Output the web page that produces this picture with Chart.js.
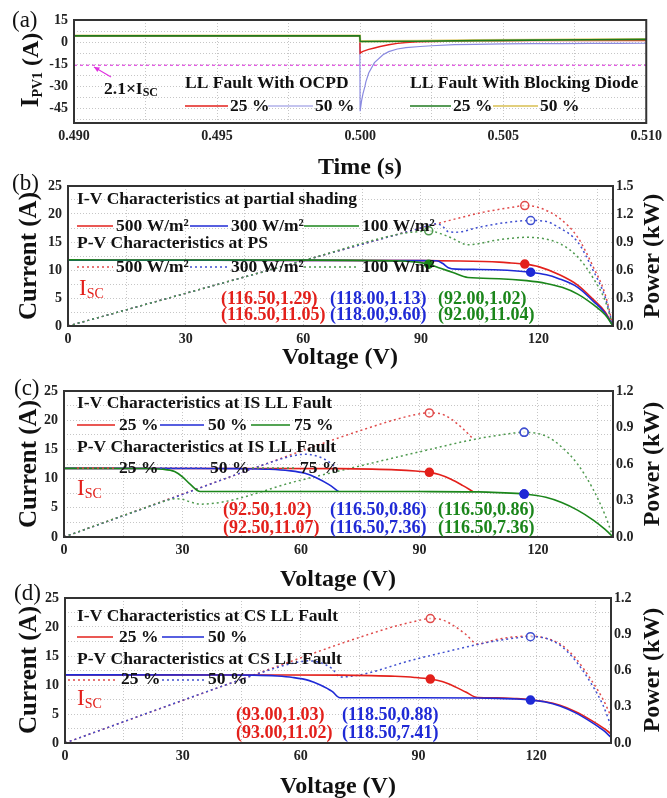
<!DOCTYPE html>
<html>
<head>
<meta charset="utf-8">
<script src="https://cdn.jsdelivr.net/npm/chart.js@4.4.1/dist/chart.umd.min.js"></script>
<style>
  body { margin: 0; background: #fff; }
  #wrap { position: relative; width: 667px; height: 798px; overflow: hidden; }
  canvas { position: absolute; left: 0; }
</style>
</head>
<body>
<div id="wrap">
  <canvas id="chartA" width="667" height="180" style="top:0px"></canvas>
  <canvas id="chartB" width="667" height="200" style="top:170px"></canvas>
  <canvas id="chartC" width="667" height="235" style="top:360px"></canvas>
  <canvas id="chartD" width="667" height="218" style="top:580px"></canvas>
</div>
<script>
// ---- (a) fault current vs time ----
const timeTickLabels = [0.490, 0.495, 0.500, 0.505, 0.510];
const ipvTickLabels = [-45, -30, -15, 0, 15];
const timeOC25 = [0.490, 0.49999, 0.5000, 0.50005, 0.5001, 0.5002, 0.5003, 0.5005, 0.5007, 0.5010, 0.5013, 0.5016, 0.5020, 0.5025, 0.5030, 0.5040, 0.5050, 0.5060, 0.5070, 0.5080, 0.5090, 0.5100];
const ipvOC25 = [4, 4, -7.5, -6.8, -6.3, -5.6, -5.0, -4.0, -3.0, -1.8, -0.9, -0.3, 0.1, 0.4, 0.6, 0.8, 0.9, 1.0, 1.0, 1.1, 1.1, 1.1];
const timeOC50 = [0.490, 0.49999, 0.5000, 0.50005, 0.5001, 0.50017, 0.5002, 0.5003, 0.5005, 0.5008, 0.5010, 0.5013, 0.5016, 0.5021, 0.5025, 0.5033, 0.5040, 0.5050, 0.5060, 0.5070, 0.5080, 0.5090, 0.5100];
const ipvOC50 = [4, 4, -47, -40, -35, -30, -27, -21, -14, -8.6, -6.5, -4.7, -3.8, -3.0, -2.5, -1.8, -1.5, -1.2, -1.1, -1.0, -0.9, -0.9, -0.8];
const timeBD = [0.490, 0.49999, 0.5000, 0.5020, 0.5040, 0.5060, 0.5080, 0.5100];
const ipvBD25 = [4.2, 4.2, 0.4, 0.6, 1.0, 1.3, 1.6, 1.8];
const ipvBD50 = [4.4, 4.4, 0.6, 0.8, 1.2, 1.5, 1.8, 2.0];
const timeLimit = [0.490, 0.510];
const ipvLimit = [-15.8, -15.8];

// ---- shared tick labels for the I-V / P-V panels ----
const voltTickLabels = [0, 30, 60, 90, 120];
const currTickLabels = [0, 5, 10, 15, 20, 25];
const powTickLabelsB = [0.0, 0.3, 0.6, 0.9, 1.2, 1.5];
const powTickLabelsCD = [0.0, 0.3, 0.6, 0.9, 1.2];

// ---- (b) partial shading ----
const voltB500 = [0, 30, 60, 90, 100, 106, 110, 113, 116.5, 120, 125.5, 130, 134, 137, 139];
const currB500 = [11.75, 11.74, 11.72, 11.68, 11.62, 11.52, 11.4, 11.25, 11.05, 10.6, 9.1, 7.3, 4.7, 2.5, 0];
const powB500 = [0, 0.35, 0.70, 1.05, 1.16, 1.22, 1.25, 1.27, 1.29, 1.27, 1.15, 0.95, 0.63, 0.34, 0];
const voltB300 = [0, 30, 60, 90, 94, 95.5, 97, 99, 105, 112, 118, 122, 125, 130, 134, 137, 139];
const currB300 = [11.75, 11.74, 11.72, 11.68, 11.65, 11.2, 10.4, 10.15, 10.1, 9.95, 9.6, 9.15, 8.5, 6.9, 4.4, 2.3, 0];
const powB300 = [0, 0.35, 0.70, 1.05, 1.095, 1.07, 1.01, 1.005, 1.06, 1.11, 1.13, 1.12, 1.06, 0.90, 0.59, 0.31, 0];
const voltB100 = [0, 30, 60, 85, 89, 92, 95, 98, 102, 110, 117, 122, 126, 130, 134, 137, 139];
const currB100 = [11.8, 11.79, 11.77, 11.6, 11.4, 11.04, 10.3, 9.6, 8.65, 8.45, 8.1, 7.6, 6.9, 5.7, 3.8, 2.0, 0];
const powB100 = [0, 0.35, 0.70, 0.99, 1.01, 1.02, 0.99, 0.94, 0.87, 0.925, 0.95, 0.93, 0.87, 0.74, 0.51, 0.27, 0];
const mppVoltB = [116.5, 118.0, 92.0];
const mppCurrB = [11.05, 9.60, 11.04];
const mppPowB = [1.29, 1.13, 1.02];

// ---- (c) IS LL fault ----
const voltC25 = [0, 40, 70, 78, 84, 89, 92.5, 95, 98, 101, 103.5];
const currC25 = [11.75, 11.73, 11.7, 11.62, 11.5, 11.3, 11.07, 10.7, 9.9, 8.8, 7.8];
const powC25 = [0, 0.47, 0.82, 0.906, 0.966, 1.006, 1.02, 1.016, 0.97, 0.89, 0.81];
const voltC50 = [0, 30, 45, 52, 57, 61, 64, 67, 69.5];
const currC50 = [11.75, 11.73, 11.7, 11.6, 11.35, 10.9, 10.1, 9.0, 7.8];
const powC50 = [0, 0.35, 0.53, 0.61, 0.66, 0.68, 0.665, 0.62, 0.55];
const voltC75 = [0, 20, 25, 28, 30, 32, 34.5, 60, 90, 105, 110, 116.5, 122, 126, 130, 134, 137, 139];
const currC75 = [11.75, 11.72, 11.6, 11.2, 10.3, 9.0, 7.8, 7.8, 7.78, 7.72, 7.6, 7.36, 6.8, 5.9, 4.6, 2.9, 1.3, 0];
const powC75 = [0, 0.234, 0.29, 0.314, 0.31, 0.288, 0.27, 0.468, 0.70, 0.81, 0.836, 0.86, 0.83, 0.74, 0.60, 0.39, 0.18, 0];
const mppVoltC = [92.5, 116.5, 116.5];
const mppCurrC = [11.07, 7.36, 7.36];
const mppPowC = [1.02, 0.86, 0.86];

// ---- (d) CS LL fault ----
const voltD25 = [0, 50, 70, 78, 84, 89, 93, 96, 99, 102, 105, 110, 115, 118.5, 122, 126, 130, 134, 137, 139];
const currD25 = [11.75, 11.73, 11.7, 11.62, 11.5, 11.3, 11.02, 10.6, 9.8, 8.8, 7.85, 7.8, 7.65, 7.47, 7.15, 6.5, 5.4, 3.9, 2.6, 1.6];
const powD25 = [0, 0.587, 0.82, 0.906, 0.966, 1.006, 1.03, 1.02, 0.97, 0.9, 0.82, 0.858, 0.88, 0.885, 0.87, 0.82, 0.70, 0.52, 0.36, 0.22];
const voltD50 = [0, 40, 48, 54, 58, 62, 65, 68, 70, 90, 105, 110, 115, 118.5, 122, 126, 130, 134, 137, 139];
const currD50 = [11.75, 11.73, 11.7, 11.55, 11.3, 10.8, 10.0, 8.9, 7.8, 7.79, 7.76, 7.7, 7.58, 7.41, 7.1, 6.4, 5.2, 3.6, 2.2, 1.0];
const powD50 = [0, 0.47, 0.56, 0.625, 0.66, 0.68, 0.665, 0.615, 0.546, 0.70, 0.815, 0.847, 0.87, 0.88, 0.87, 0.81, 0.68, 0.49, 0.31, 0.14];
const mppVoltD = [93.0, 118.5];
const mppCurrD = [11.02, 7.41];
const mppPowD = [1.03, 0.88];

const SERIF = "'Liberation Serif', 'Times New Roman', serif";
const RED = '#e3201b', BLUE = '#1f2ad6', GREEN = '#1b861b';
const PRED = '#e04a4a', PBLUE = '#4050d0', PGREEN = '#4f9a4f';
const DOT = [2, 3];
const LEG = 17.5, VAL = 18;

function font(size, bold) {
    return (bold ? 'bold ' : '') + size + 'px ' + SERIF;
}

// majors plus the half-way gridlines
function withHalves(majors, min, max) {
    const half = Math.abs(majors[1] - majors[0]) / 2;
    const base = Math.min(...majors);
    const out = [];
    for (let k = Math.ceil((min - base) / half - 1e-9); base + k * half <= max + 1e-9; k++) {
        out.push(+(base + k * half).toFixed(6));
    }
    return out;
}

function axis(pos, min, max, labels, digits, size, showGrid, pad) {
    return {
        type: 'linear', position: pos, min: min, max: max,
        grid: { display: showGrid, color: '#c6c6c6', lineWidth: 1, drawTicks: false },
        border: { display: false, dash: [1, 2] },
        ticks: {
            autoSkip: false, maxRotation: 0, padding: pad,
            color: '#222', font: { family: SERIF, size: 14, weight: 'bold' },
            callback: v => labels.some(t => Math.abs(t - v) < 1e-9) ? Number(v).toFixed(digits) : ''
        },
        afterBuildTicks: s => { s.ticks = withHalves(labels, min, max).map(v => ({ value: v })); },
        afterFit: s => { if (s.isHorizontal()) s.height = size; else s.width = size; }
    };
}

function line(xs, ys, color, width, axisId, dash, smooth) {
    return {
        data: xs.map((x, i) => ({ x: x, y: ys[i] })),
        borderColor: color, borderWidth: width, yAxisID: axisId || 'y',
        borderDash: dash || [], pointRadius: 0, fill: false,
        cubicInterpolationMode: smooth === false ? 'default' : 'monotone'
    };
}

function marks(xs, ys, colors, axisId, open) {
    return {
        data: xs.map((x, i) => ({ x: x, y: ys[i] })),
        showLine: false, yAxisID: axisId, pointRadius: 4, pointBorderWidth: 1.5,
        pointBorderColor: colors,
        pointBackgroundColor: open ? colors.map(() => 'rgba(255,255,255,0.55)') : colors
    };
}

function drawParts(ctx, it, dy) {
    const parts = it.parts || [{ s: it.text }];
    const bold = it.bold !== false;
    let total = 0;
    const widths = parts.map(p => {
        ctx.font = font(p.size || it.size, bold);
        const w = ctx.measureText(p.s).width;
        total += w;
        return w;
    });
    ctx.save();
    ctx.fillStyle = it.color || '#111';
    let x;
    if (it.rotate) {
        ctx.translate(it.x, it.y - dy);
        ctx.rotate(-Math.PI / 2);
        x = -total / 2;
    } else {
        ctx.translate(0, it.y - dy);
        x = it.align === 'center' ? it.x - total / 2 : it.x;
    }
    parts.forEach((p, i) => {
        ctx.font = font(p.size || it.size, bold);
        ctx.fillText(p.s, x, p.dy || 0);
        x += widths[i];
    });
    ctx.restore();
}

const notesPlugin = {
    id: 'notes',
    afterDraw(chart, args, opts) {
        const ctx = chart.ctx, ca = chart.chartArea, dy = opts.top || 0;
        ctx.save();
        ctx.setLineDash([]);
        ctx.strokeStyle = '#333';
        ctx.lineWidth = 2;
        ctx.strokeRect(ca.left, ca.top, ca.right - ca.left, ca.bottom - ca.top);
        ctx.textBaseline = 'middle';
        (opts.items || []).forEach(it => {
            if (it.kind === 'line') {
                ctx.beginPath();
                ctx.strokeStyle = it.color;
                ctx.lineWidth = it.width || 1.6;
                ctx.setLineDash(it.dash || []);
                ctx.moveTo(it.x1, it.y - dy);
                ctx.lineTo(it.x2, it.y - dy);
                ctx.stroke();
                ctx.setLineDash([]);
            } else if (it.kind === 'arrow') {
                const ang = Math.atan2(it.y2 - it.y1, it.x2 - it.x1);
                ctx.strokeStyle = it.color;
                ctx.fillStyle = it.color;
                ctx.lineWidth = 1.2;
                ctx.beginPath();
                ctx.moveTo(it.x1, it.y1 - dy);
                ctx.lineTo(it.x2, it.y2 - dy);
                ctx.stroke();
                ctx.beginPath();
                ctx.moveTo(it.x2, it.y2 - dy);
                ctx.lineTo(it.x2 - 6 * Math.cos(ang - 0.45), it.y2 - dy - 6 * Math.sin(ang - 0.45));
                ctx.lineTo(it.x2 - 6 * Math.cos(ang + 0.45), it.y2 - dy - 6 * Math.sin(ang + 0.45));
                ctx.closePath();
                ctx.fill();
            } else {
                drawParts(ctx, it, dy);
            }
        });
        ctx.restore();
    }
};

function makeChart(id, top, height, box, datasets, scales, items) {
    const canvas = document.getElementById(id);
    return new Chart(canvas, {
        type: 'line',
        data: { datasets: datasets },
        options: {
            responsive: false, animation: false, devicePixelRatio: 1,
            layout: { padding: { top: box.t, left: 0, bottom: 0, right: box.padRight || 0 } },
            scales: scales,
            plugins: {
                legend: { display: false }, tooltip: { enabled: false },
                notes: { top: top, items: items }
            }
        },
        plugins: [notesPlugin]
    });
}

function pairLabel(v, y) {
    return '(' + v.toFixed(2) + ',' + y.toFixed(2) + ')';
}

function isc(x, y) {
    return { parts: [{ s: 'I', size: 23 }, { s: 'SC', size: 14, dy: 5 }], x: x, y: y, size: 23, bold: false, color: RED };
}

// ---------- (a) ----------
makeChart('chartA', 0, 180, { t: 20, padRight: 20 }, [
    line(timeBD, ipvBD25, '#1f7a1f', 1.6, 'y', null, false),
    line(timeBD, ipvBD50, '#e2cf7c', 2.4, 'y', null, false),
    line(timeOC25, ipvOC25, RED, 1.4, 'y', null, false),
    line(timeOC50, ipvOC50, '#8a8ae0', 1.2, 'y', null, false),
    line(timeLimit, ipvLimit, '#e35ee3', 1.4, 'y', [3, 3], false)
], {
    x: axis('bottom', 0.490, 0.510, timeTickLabels, 3, 57, true, 5),
    y: axis('left', -55, 15, ipvTickLabels, 0, 74, true, 6)
}, [
    { text: '(a)', x: 12, y: 21, size: 23, bold: false },
    { parts: [{ s: 'I', size: 25 }, { s: 'PV1', size: 14, dy: 6 }, { s: ' (A)', size: 24 }], x: 32, y: 70, size: 24, rotate: true },
    { text: 'Time (s)', x: 360, y: 168, size: 24, align: 'center' },
    { kind: 'arrow', x1: 111, y1: 77, x2: 94, y2: 67, color: '#e030e0' },
    { parts: [{ s: '2.1×I' }, { s: 'SC', size: 12, dy: 4 }], x: 104, y: 89, size: LEG },
    { text: 'LL Fault With OCPD', x: 185, y: 83, size: LEG },
    { kind: 'line', x1: 185, x2: 228, y: 106, color: RED },
    { text: '25 %', x: 230, y: 106, size: LEG },
    { kind: 'line', x1: 268, x2: 313, y: 106, color: '#8a8ae0', width: 1.2 },
    { text: '50 %', x: 315, y: 106, size: LEG },
    { text: 'LL Fault With Blocking Diode', x: 410, y: 83, size: LEG },
    { kind: 'line', x1: 410, x2: 451, y: 106, color: '#1f7a1f' },
    { text: '25 %', x: 453, y: 106, size: LEG },
    { kind: 'line', x1: 493, x2: 538, y: 106, color: '#e2cf7c', width: 2 },
    { text: '50 %', x: 540, y: 106, size: LEG }
]);

// ---------- (b) ----------
makeChart('chartB', 170, 200, { t: 16 }, [
    marks(mppVoltB, mppPowB, [PRED, PBLUE, PGREEN], 'y2', true),
    marks(mppVoltB, mppCurrB, [RED, BLUE, GREEN], 'y', false),
    line(voltB100, currB100, GREEN, 1.6),
    line(voltB300, currB300, BLUE, 1.6),
    line(voltB500, currB500, RED, 1.6),
    line(voltB100, powB100, PGREEN, 1.5, 'y2', DOT),
    line(voltB300, powB300, PBLUE, 1.5, 'y2', DOT),
    line(voltB500, powB500, PRED, 1.5, 'y2', DOT)
], {
    x: axis('bottom', 0, 139, voltTickLabels, 0, 44, true, 5),
    y: axis('left', 0, 25, currTickLabels, 0, 68, true, 6),
    y2: axis('right', 0, 1.5, powTickLabelsB, 1, 54, false, 3)
}, [
    { text: '(b)', x: 12, y: 184, size: 23, bold: false },
    { text: 'Current (A)', x: 30, y: 256, size: 25, rotate: true },
    { text: 'Power (kW)', x: 653, y: 256, size: 24, rotate: true },
    { text: 'Voltage (V)', x: 340, y: 358, size: 24, align: 'center' },
    { text: 'I-V Characteristics at partial shading', x: 77, y: 199, size: LEG },
    { kind: 'line', x1: 77, x2: 113, y: 226, color: RED },
    { text: '500 W/m²', x: 116, y: 226, size: LEG },
    { kind: 'line', x1: 190, x2: 228, y: 226, color: BLUE },
    { text: '300 W/m²', x: 231, y: 226, size: LEG },
    { kind: 'line', x1: 304, x2: 359, y: 226, color: GREEN },
    { text: '100 W/m²', x: 362, y: 226, size: LEG },
    { text: 'P-V Characteristics at PS', x: 77, y: 243, size: LEG },
    { kind: 'line', x1: 77, x2: 113, y: 267, color: PRED, dash: DOT, width: 1.5 },
    { text: '500 W/m²', x: 116, y: 267, size: LEG },
    { kind: 'line', x1: 190, x2: 228, y: 267, color: PBLUE, dash: DOT, width: 1.5 },
    { text: '300 W/m²', x: 231, y: 267, size: LEG },
    { kind: 'line', x1: 304, x2: 359, y: 267, color: PGREEN, dash: DOT, width: 1.5 },
    { text: '100 W/m²', x: 362, y: 267, size: LEG },
    isc(79, 289),
    { text: pairLabel(mppVoltB[0], mppPowB[0]), x: 221, y: 299, size: VAL, color: RED },
    { text: pairLabel(mppVoltB[0], mppCurrB[0]), x: 221, y: 315, size: VAL, color: RED },
    { text: pairLabel(mppVoltB[1], mppPowB[1]), x: 330, y: 299, size: VAL, color: BLUE },
    { text: pairLabel(mppVoltB[1], mppCurrB[1]), x: 330, y: 315, size: VAL, color: BLUE },
    { text: pairLabel(mppVoltB[2], mppPowB[2]), x: 438, y: 299, size: VAL, color: GREEN },
    { text: pairLabel(mppVoltB[2], mppCurrB[2]), x: 438, y: 315, size: VAL, color: GREEN }
]);

// ---------- (c) ----------
makeChart('chartC', 360, 235, { t: 31 }, [
    marks(mppVoltC, mppPowC, [PRED, PBLUE, PBLUE], 'y2', true),
    marks(mppVoltC, mppCurrC, [RED, BLUE, BLUE], 'y', false),
    line(voltC75, currC75, GREEN, 1.6),
    line(voltC50, currC50, BLUE, 1.6),
    line(voltC25, currC25, RED, 1.6),
    line(voltC75, powC75, PGREEN, 1.5, 'y2', DOT),
    line(voltC50, powC50, PBLUE, 1.5, 'y2', DOT),
    line(voltC25, powC25, PRED, 1.5, 'y2', DOT)
], {
    x: axis('bottom', 0, 139, voltTickLabels, 0, 58, true, 5),
    y: axis('left', 0, 25, currTickLabels, 0, 64, true, 6),
    y2: axis('right', 0, 1.2, powTickLabelsCD, 1, 54, false, 3)
}, [
    { text: '(c)', x: 14, y: 389, size: 23, bold: false },
    { text: 'Current (A)', x: 30, y: 464, size: 25, rotate: true },
    { text: 'Power (kW)', x: 653, y: 464, size: 24, rotate: true },
    { text: 'Voltage (V)', x: 338, y: 580, size: 24, align: 'center' },
    { text: 'I-V Characteristics at IS LL Fault', x: 77, y: 403, size: LEG },
    { kind: 'line', x1: 77, x2: 115, y: 425, color: RED },
    { text: '25 %', x: 119, y: 425, size: LEG },
    { kind: 'line', x1: 160, x2: 204, y: 425, color: BLUE },
    { text: '50 %', x: 208, y: 425, size: LEG },
    { kind: 'line', x1: 251, x2: 290, y: 425, color: GREEN },
    { text: '75 %', x: 294, y: 425, size: LEG },
    { text: 'P-V Characteristics at IS LL Fault', x: 77, y: 447, size: LEG },
    { kind: 'line', x1: 77, x2: 115, y: 468, color: PRED, dash: DOT, width: 1.5 },
    { text: '25 %', x: 119, y: 468, size: LEG },
    { kind: 'line', x1: 160, x2: 206, y: 468, color: PBLUE, dash: DOT, width: 1.5 },
    { text: '50 %', x: 210, y: 468, size: LEG },
    { kind: 'line', x1: 252, x2: 297, y: 468, color: PGREEN, dash: DOT, width: 1.5 },
    { text: '75 %', x: 300, y: 468, size: LEG },
    isc(77, 489),
    { text: pairLabel(mppVoltC[0], mppPowC[0]), x: 223, y: 510, size: VAL, color: RED },
    { text: pairLabel(mppVoltC[0], mppCurrC[0]), x: 223, y: 528, size: VAL, color: RED },
    { text: pairLabel(mppVoltC[1], mppPowC[1]), x: 330, y: 510, size: VAL, color: BLUE },
    { text: pairLabel(mppVoltC[1], mppCurrC[1]), x: 330, y: 528, size: VAL, color: BLUE },
    { text: pairLabel(mppVoltC[2], mppPowC[2]), x: 438, y: 510, size: VAL, color: GREEN },
    { text: pairLabel(mppVoltC[2], mppCurrC[2]), x: 438, y: 528, size: VAL, color: GREEN }
]);

// ---------- (d) ----------
makeChart('chartD', 580, 218, { t: 18 }, [
    marks(mppVoltD, mppPowD, [PRED, PBLUE], 'y2', true),
    marks(mppVoltD, mppCurrD, [RED, BLUE], 'y', false),
    line(voltD50, currD50, BLUE, 1.6),
    line(voltD25, currD25, RED, 1.6),
    line(voltD50, powD50, PBLUE, 1.5, 'y2', DOT),
    line(voltD25, powD25, PRED, 1.5, 'y2', DOT)
], {
    x: axis('bottom', 0, 139, voltTickLabels, 0, 55, true, 5),
    y: axis('left', 0, 25, currTickLabels, 0, 65, true, 6),
    y2: axis('right', 0, 1.2, powTickLabelsCD, 1, 56, false, 3)
}, [
    { text: '(d)', x: 14, y: 594, size: 23, bold: false },
    { text: 'Current (A)', x: 30, y: 670, size: 25, rotate: true },
    { text: 'Power (kW)', x: 653, y: 670, size: 24, rotate: true },
    { text: 'Voltage (V)', x: 338, y: 787, size: 24, align: 'center' },
    { text: 'I-V Characteristics at CS LL Fault', x: 77, y: 616, size: LEG },
    { kind: 'line', x1: 77, x2: 113, y: 637, color: RED },
    { text: '25 %', x: 119, y: 637, size: LEG },
    { kind: 'line', x1: 162, x2: 204, y: 637, color: BLUE },
    { text: '50 %', x: 208, y: 637, size: LEG },
    { text: 'P-V Characteristics at CS LL Fault', x: 77, y: 659, size: LEG },
    { kind: 'line', x1: 68, x2: 116, y: 680, color: PRED, dash: DOT, width: 1.5 },
    { text: '25 %', x: 121, y: 679, size: LEG },
    { kind: 'line', x1: 162, x2: 204, y: 680, color: PBLUE, dash: DOT, width: 1.5 },
    { text: '50 %', x: 208, y: 679, size: LEG },
    isc(77, 699),
    { text: pairLabel(mppVoltD[0], mppPowD[0]), x: 236, y: 715, size: VAL, color: RED },
    { text: pairLabel(mppVoltD[0], mppCurrD[0]), x: 236, y: 733, size: VAL, color: RED },
    { text: pairLabel(mppVoltD[1], mppPowD[1]), x: 342, y: 715, size: VAL, color: BLUE },
    { text: pairLabel(mppVoltD[1], mppCurrD[1]), x: 342, y: 733, size: VAL, color: BLUE }
]);
</script>
</body>
</html>
